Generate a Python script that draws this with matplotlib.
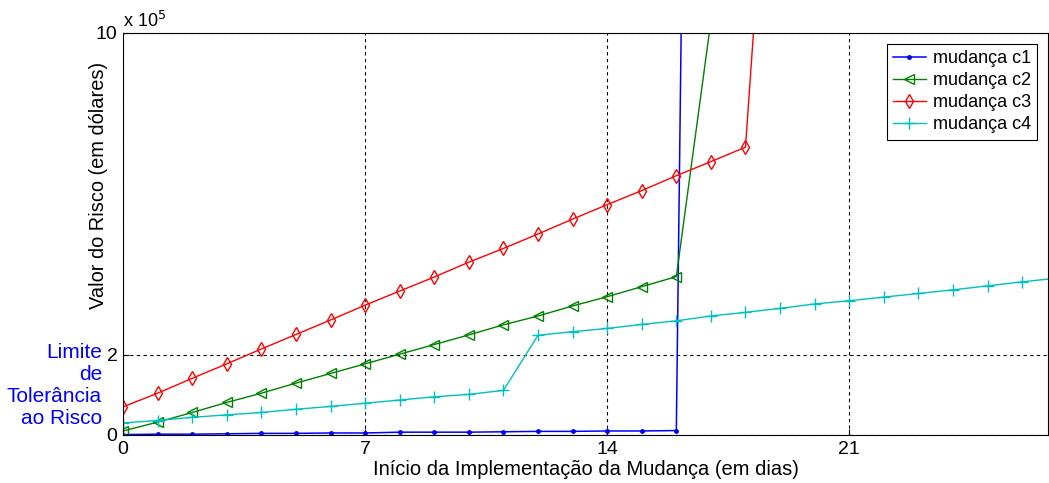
import numpy as np
import matplotlib.pyplot as plt

plt.rcParams['font.family'] = ['Liberation Sans', 'DejaVu Sans']

# risk value per start day, in units of 1e5 dollars
dias_c1 = list(range(0, 18))
risco_c1 = [0.01, 0.02, 0.02, 0.03, 0.04, 0.04, 0.05, 0.05, 0.07, 0.07,
            0.07, 0.08, 0.09, 0.09, 0.10, 0.10, 0.11, 71.0]

dias_c2 = list(range(0, 18))
risco_c2 = [0.10, 0.32, 0.56, 0.81, 1.04, 1.29, 1.53, 1.77, 2.01, 2.25,
            2.49, 2.74, 2.96, 3.21, 3.44, 3.69, 3.94, 10.3]

dias_c3 = list(range(0, 20))
risco_c3 = [0.70, 1.04, 1.41, 1.77, 2.14, 2.50, 2.86, 3.23, 3.58, 3.93,
            4.30, 4.64, 5.00, 5.37, 5.73, 6.08, 6.45, 6.80, 7.16, 19.5]

dias_c4 = list(range(0, 28))
risco_c4 = [0.30, 0.36, 0.44, 0.50, 0.56, 0.64, 0.71, 0.79, 0.87, 0.95,
            1.01, 1.11, 2.48, 2.57, 2.65, 2.75, 2.84, 2.96, 3.05, 3.15,
            3.26, 3.34, 3.43, 3.52, 3.61, 3.71, 3.81, 3.90]

x_ticks = [0, 7, 14, 21]
y_ticks = [0, 2, 10]

fig = plt.figure(figsize=(10.49, 4.83), dpi=100)
ax = fig.add_axes([0.1173, 0.0994, 0.8818, 0.8323])

ax.plot(dias_c1, np.array(risco_c1) * 1e5, color=(0, 0, 1), marker='.',
        markersize=5, lw=1.1, label='mudança c1')
ax.plot(dias_c2, np.array(risco_c2) * 1e5, color=(0, 0.5, 0), marker='<',
        markersize=7, mfc='none', lw=1, label='mudança c2')
ax.plot(dias_c3, np.array(risco_c3) * 1e5, color=(1, 0, 0), marker='d',
        markersize=7, mfc='none', lw=1, label='mudança c3')
ax.plot(dias_c4, np.array(risco_c4) * 1e5, color=(0, 0.75, 0.75), marker='+',
        markersize=8, lw=1, label='mudança c4')

ax.set_xlim(0, 26.75)
ax.set_ylim(0, 10e5)
ax.set_xticks(x_ticks)
ax.set_yticks([v * 1e5 for v in y_ticks])
ax.set_yticklabels([str(v) for v in y_ticks])
ax.tick_params(labelsize=14, direction='in', length=4, pad=4)
ax.grid(True, color='black', linestyle=(0, (3, 3)), linewidth=0.8)

ax.text(0, 1.005, r'x 10$^5$', transform=ax.transAxes, fontsize=13,
        va='bottom', ha='left')

ax.set_xlabel('Início da Implementação da Mudança (em dias)', fontsize=14.5,
              labelpad=2)
ax.set_ylabel('Valor do Risco (em dólares)', fontsize=14.4)
ax.yaxis.set_label_coords(-0.016, 0.622)

ax.text(-0.0227, 0.123, 'Limite\nde\nTolerância\nao Risco',
        transform=ax.transAxes, color=(0, 0, 1), fontsize=15,
        ha='right', va='center', multialignment='right', linespacing=1.18)

leg = ax.legend(loc='upper right', fontsize=13, fancybox=False,
                framealpha=1, edgecolor='black', borderpad=0.35,
                labelspacing=0.28, handlelength=1.8, handletextpad=0.4,
                borderaxespad=0.6)
leg.get_frame().set_linewidth(0.8)

fig.savefig('out.png', dpi=100)
